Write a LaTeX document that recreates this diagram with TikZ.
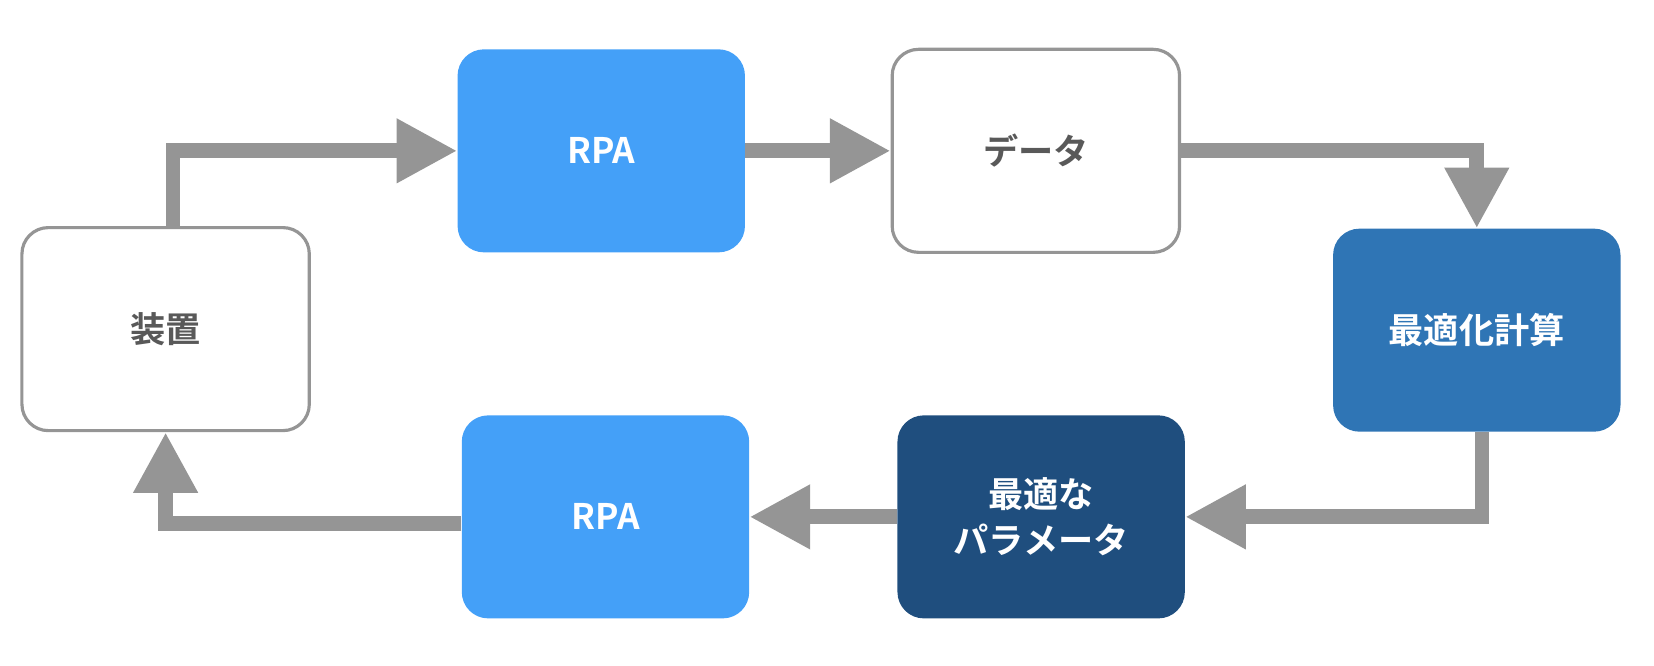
\documentclass[tikz,border=0pt]{standalone}
\usepackage{fontspec}
\setmainfont{Noto Sans CJK JP Bold}
\usetikzlibrary{arrows.meta}
\definecolor{rpablue}{HTML}{44A0F8}
\definecolor{calcblue}{HTML}{2F75B5}
\definecolor{darkblue}{HTML}{1F4E7E}
\definecolor{linegray}{HTML}{959595}
\definecolor{textgray}{HTML}{595959}
\begin{document}
\begin{tikzpicture}
[
	              x = 0.02cm, y = -0.02cm,
	    box/.style = { rounded corners=0.5cm, minimum width=5.45cm, minimum height=3.85cm,
	                   font=\fontsize{19}{25}\selectfont, align=center },
	  plain/.style = { box, draw=linegray, line width=0.06cm, fill=white, text=textgray },
	 filled/.style = { box, text=white },
	   flow/.style = { draw=linegray, line width=0.28cm,
	                   -{Triangle[length=1.15cm,width=1.15cm]} }
]
	\useasboundingbox (0,0) rectangle (1568,631);

	% boxes
	\node (dev)   at (157,312)  [plain]                 {装置};
	\node (rpa1)  at (570,143)  [filled, fill=rpablue]  {RPA};
	\node (data)  at (982,143)  [plain]                 {データ};
	\node (calc)  at (1400,313) [filled, fill=calcblue] {最適化計算};
	\node (param) at (987,490)  [filled, fill=darkblue] {最適な\\パラメータ};
	\node (rpa2)  at (574,490)  [filled, fill=rpablue]  {RPA};

	% flow
	\draw [flow] ([xshift=0.14cm]dev.north) |- (rpa1.west);
	\draw [flow] (rpa1.east) -- (data.west);
	\draw [flow] (data.east) -| (calc.north);
	\draw [flow] ([xshift=0.1cm]calc.south) |- (param.east);
	\draw [flow] (param.west) -- (rpa2.east);
	\draw [flow] ([yshift=-0.12cm]rpa2.west) -| (dev.south);

\end{tikzpicture}
\end{document}
